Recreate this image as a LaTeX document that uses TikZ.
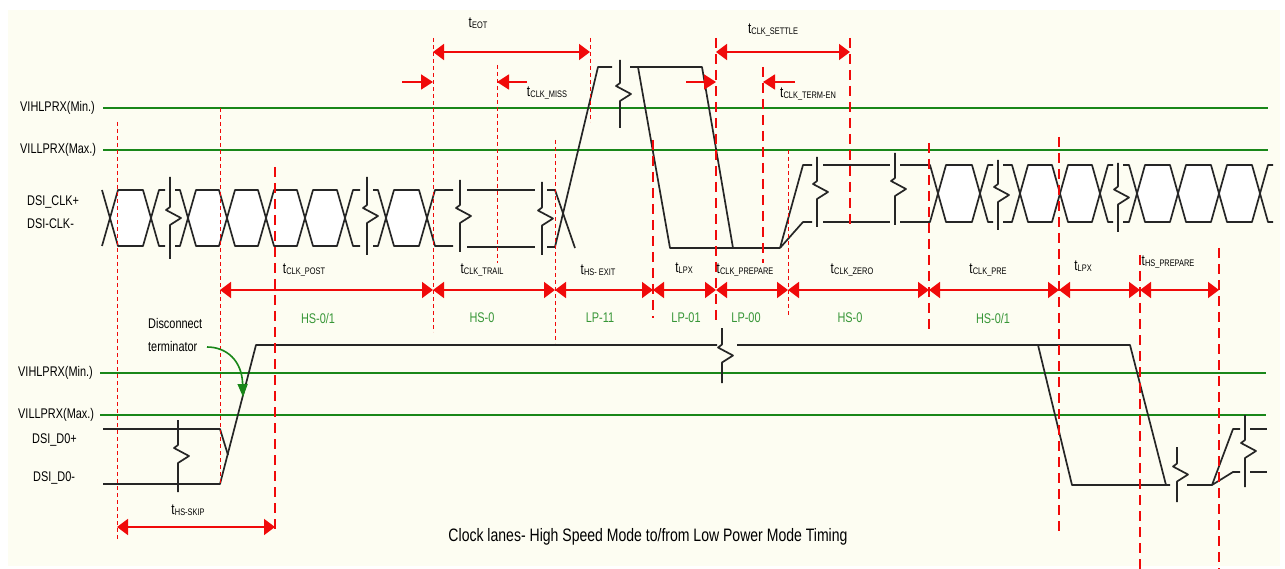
\documentclass[tikz,border=0pt]{standalone}
\usepackage{fontspec}
\setmainfont{Liberation Sans}[FakeStretch=0.78]
\usetikzlibrary{arrows.meta}
\definecolor{bgc}{RGB}{253,253,242}
\definecolor{lvlc}{RGB}{25,135,25}
\definecolor{gtxt}{RGB}{55,150,55}
\definecolor{rdc}{RGB}{240,10,10}
\newcommand{\tlab}[1]{t\kern0.2pt\raisebox{-1.4pt}{\fontsize{9.5}{10}\selectfont #1}}
\newcommand{\clkeye}[4]{\draw[wave, fill=white] (#1,{(#3+#4)/2}) -- (#1+8,#3) -- (#2-8,#3) -- (#2,{(#3+#4)/2}) -- (#2-8,#4) -- (#1+8,#4) -- cycle;}
\newcommand{\clkR}[4]{\draw[wave] (#1,{(#2+#3)/2}) -- (#1+8,#2) -- (#4,#2) (#1,{(#2+#3)/2}) -- (#1+8,#3) -- (#4,#3);}
\newcommand{\clkL}[4]{\draw[wave] (#1,#3) -- (#2-8,#3) -- (#2,{(#3+#4)/2}) -- (#2-8,#4) -- (#1,#4);}
\newcommand{\zbrk}[3]{\draw[wave] (#1,#2) -- (#1,{(#2+#3)/2-11}) -- (#1-4,{(#2+#3)/2-8}) -- (#1+11,{(#2+#3)/2}) -- (#1,{(#2+#3)/2+7}) -- (#1,#3);}
\begin{document}
\begin{tikzpicture}[x=1pt,y=-1pt,
  wave/.style={line width=1.7pt, black!85, line join=round},
  lvl/.style={line width=2.4pt, lvlc},
  thindash/.style={rdc, line width=0.9pt, dash pattern=on 4pt off 3pt},
  thickdash/.style={rdc, line width=1.6pt, dash pattern=on 10pt off 6pt},
  dim/.style={rdc, line width=1.8pt, {Triangle[length=11pt,width=16pt]}-{Triangle[length=11pt,width=16pt]}},
  ptr/.style={rdc, line width=1.8pt, -{Triangle[length=12pt,width=15pt]}},
  lbl/.style={font=\fontsize{14}{15}\selectfont, inner sep=0pt},
  tl/.style={font=\fontsize{15}{16}\selectfont, inner sep=0pt},
  glbl/.style={lbl, text=gtxt}]
\useasboundingbox (0,0) rectangle (1285,569);
\fill[white] (0,0) rectangle (1285,569);
\fill[bgc] (8,10) rectangle (1280,566);

% level lines
\draw[lvl] (103,108) -- (1268,108);
\draw[lvl] (103,150) -- (1268,150);
\draw[lvl] (100,373) -- (1266,373);
\draw[lvl] (100,415) -- (1266,415);

% left clock
\clkL{102}{110}{190}{246}
\clkeye{110}{151}{190}{246}
\clkR{151}{190}{246}{165}
\zbrk{170}{177}{259}
\clkL{175}{188}{190}{246}
\clkeye{188}{227}{190}{246}
\clkeye{227}{266}{190}{246}
\clkeye{266}{305}{190}{246}
\clkeye{305}{345}{190}{246}
\clkR{345}{190}{246}{360}
\zbrk{367}{177}{255}
\clkL{373}{386}{190}{246}
\clkeye{386}{427}{190}{246}
\clkR{427}{190}{246}{453}
\zbrk{460}{180}{252}
\draw[wave] (467,190) -- (535,190) (467,247) -- (535,247);
\zbrk{542}{182}{255}
\draw[wave] (547,190) -- (555,190) -- (575,248);
\draw[wave] (547,247) -- (555,247) -- (598,67) -- (612,67);
\zbrk{620}{60}{128}
\draw[wave] (630,67) -- (702,67) -- (733,248);
\draw[wave] (638,67) -- (670,248) -- (780,248);
\draw[wave] (780,248) -- (803,165) -- (812,165);
\draw[wave] (780,248) -- (803,222) -- (812,222);
\zbrk{817}{157}{227}
\draw[wave] (823,165) -- (890,165) (823,222) -- (890,222);
\zbrk{895}{153}{225}
% right clock
\clkL{900}{938}{165}{222}
\clkeye{938}{980}{165}{222}
\clkR{980}{165}{222}{993}
\zbrk{998}{160}{230}
\clkL{1003}{1020}{165}{222}
\clkeye{1020}{1060}{165}{222}
\clkeye{1060}{1100}{165}{222}
\clkR{1100}{165}{222}{1113}
\zbrk{1118}{163}{232}
\clkL{1123}{1137}{165}{222}
\clkeye{1137}{1178}{165}{222}
\clkeye{1178}{1219}{165}{222}
\clkeye{1219}{1260}{165}{222}
\clkR{1260}{165}{222}{1273}

% data lane
\draw[wave] (103,429) -- (220,429) -- (228,455);
\draw[wave] (103,484) -- (220,484) -- (256,345) -- (717,345);
\zbrk{178}{420}{492}
\zbrk{722}{328}{383}
\draw[wave] (737,345) -- (1130,345) -- (1166,485) -- (1170,485);
\draw[wave] (1038,345) -- (1072,485) -- (1166,485);
\zbrk{1177}{447}{502}
\draw[wave] (1187,485) -- (1212,485) -- (1233,429) -- (1240,429);
\draw[wave] (1212,485) -- (1233,472) -- (1240,472);
\zbrk{1245}{415}{487}
\draw[wave] (1250,429) -- (1267,429) (1250,472) -- (1267,472);

% red dashed markers
\draw[thindash] (117,122) -- (117,540);
\draw[thindash] (220,108) -- (220,484);
\draw[thickdash] (275,167) -- (275,533);
\draw[thindash] (433,38) -- (433,332);
\draw[thindash] (497,65) -- (497,263);
\draw[thindash] (555,140) -- (555,343);
\draw[thindash] (590,38) -- (590,122);
\draw[thickdash] (653,140) -- (653,318);
\draw[thickdash] (716,38) -- (716,320);
\draw[thickdash] (763,67) -- (763,263);
\draw[thindash] (788,150) -- (788,317);
\draw[thickdash] (850,38) -- (850,230);
\draw[thickdash] (929,143) -- (929,332);
\draw[thickdash] (1059,137) -- (1059,533);
\draw[thickdash] (1140,255) -- (1140,569);
\draw[thickdash] (1219,248) -- (1219,569);

% dimension arrows
\foreach \x in {220,433,555,653,716,788,929,1059,1140,1219} \coordinate (a\x) at (\x,290);
\draw[dim] (a220) -- (a433);
\draw[dim] (a433) -- (a555);
\draw[dim] (a555) -- (a653);
\draw[dim] (a653) -- (a716);
\draw[dim] (a716) -- (a788);
\draw[dim] (a788) -- (a929);
\draw[dim] (a929) -- (a1059);
\draw[dim] (a1059) -- (a1140);
\draw[dim] (a1140) -- (a1219);
\coordinate (e433) at (433,52); \coordinate (e590) at (590,52);
\coordinate (s716) at (716,52); \coordinate (s850) at (850,52);
\draw[dim] (e433) -- (e590);
\draw[dim] (s716) -- (s850);
\coordinate (k117) at (117,527); \coordinate (k275) at (275,527);
\draw[dim] (k117) -- (k275);
\coordinate (p402) at (402,82); \coordinate (p433) at (433,82);
\coordinate (p527) at (527,82); \coordinate (p497) at (497,82);
\coordinate (p686) at (686,82); \coordinate (p716) at (716,82);
\coordinate (p795) at (795,82); \coordinate (p763) at (763,82);
\draw[ptr] (p402) -- (p433);
\draw[ptr] (p527) -- (p497);
\draw[ptr] (p686) -- (p716);
\draw[ptr] (p795) -- (p763);

% left labels
\node[lbl, anchor=west] (vih1) at (20,108) {VIHLPRX(Min.)};
\node[lbl, anchor=west] (vil1) at (20,150) {VILLPRX(Max.)};
\node[lbl, anchor=west] (clkp) at (27,202) {DSI\_CLK+};
\node[lbl, anchor=west] (clkn) at (27,224) {DSI-CLK-};
\node[lbl, anchor=west] (vih2) at (18,373) {VIHLPRX(Min.)};
\node[lbl, anchor=west] (vil2) at (18,415) {VILLPRX(Max.)};
\node[lbl, anchor=west] (d0p) at (32,440) {DSI\_D0+};
\node[lbl, anchor=west] (d0n) at (33,478) {DSI\_D0-};

% timing labels
\node[tl] (teot) at (478,23) {\tlab{EOT}};
\node[tl] (tmiss) at (547,93) {\tlab{CLK\_MISS}};
\node[tl] (tsettle) at (773,30) {\tlab{CLK\_SETTLE}};
\node[tl] (tterm) at (808,94) {\tlab{CLK\_TERM-EN}};
\node[tl] (tpost) at (304,270) {\tlab{CLK\_POST}};
\node[tl] (ttrail) at (482,270) {\tlab{CLK\_TRAIL}};
\node[tl] (texit) at (598,270) {\tlab{HS- EXIT}};
\node[tl] (tlpx1) at (684,268) {\tlab{LPX}};
\node[tl] (tprep) at (745,270) {\tlab{CLK\_PREPARE}};
\node[tl] (tzero) at (852,270) {\tlab{CLK\_ZERO}};
\node[tl] (tpre) at (988,270) {\tlab{CLK\_PRE}};
\node[tl] (tlpx2) at (1083,266) {\tlab{LPX}};
\node[tl] (thsprep) at (1168,262) {\tlab{HS\_PREPARE}};
\node[tl] (tskip) at (188,510) {\tlab{HS-SKIP}};

% state labels
\node[glbl] (st1) at (318,318) {HS-0/1};
\node[glbl] (st2) at (482,318) {HS-0};
\node[glbl] (st3) at (600,318) {LP-11};
\node[glbl] (st4) at (686,318) {LP-01};
\node[glbl] (st5) at (746,318) {LP-00};
\node[glbl] (st6) at (850,318) {HS-0};
\node[glbl] (st7) at (993,318) {HS-0/1};

% disconnect terminator
\node[lbl, anchor=west] (disc) at (148,323) {Disconnect};
\node[lbl, anchor=west] (term) at (148,346) {terminator};
\coordinate (gstart) at (207,347);
\coordinate (gend) at (243,397);
\draw[lvlc, line width=1.6pt, -{Triangle[length=13pt,width=10pt]}] (gstart) .. controls (226,347) and (242,360) .. (gend);

% caption
\node[inner sep=0pt, font=\fontsize{18}{19}\selectfont] (cap) at (648,537) {Clock lanes- High Speed Mode to/from Low Power Mode Timing};
\end{tikzpicture}
\end{document}
